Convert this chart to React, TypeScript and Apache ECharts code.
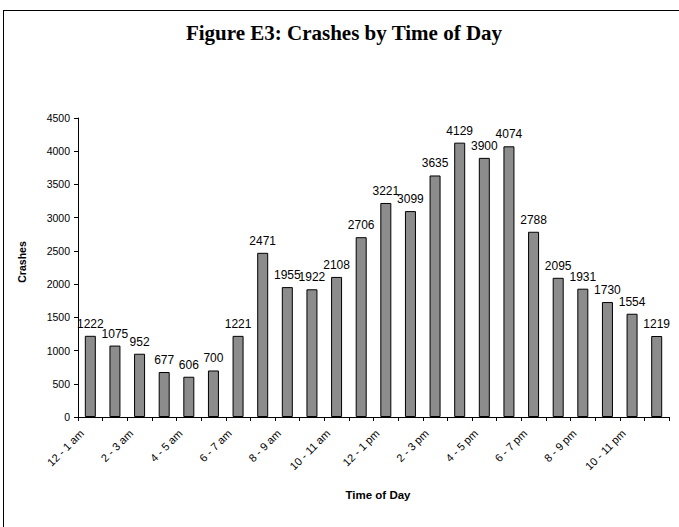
import React, { useEffect, useRef } from "react";
import * as echarts from "echarts";

const categories = [
  "12 - 1 am", "1 - 2 am", "2 - 3 am", "3 - 4 am", "4 - 5 am", "5 - 6 am",
  "6 - 7 am", "7 - 8 am", "8 - 9 am", "9 - 10 am", "10 - 11 am", "11 - 12 pm",
  "12 - 1 pm", "1 - 2 pm", "2 - 3 pm", "3 - 4 pm", "4 - 5 pm", "5 - 6 pm",
  "6 - 7 pm", "7 - 8 pm", "8 - 9 pm", "9 - 10 pm", "10 - 11 pm", "11 - 12 am",
];
const crashes = [
  1222, 1075, 952, 677, 606, 700, 1221, 2471, 1955, 1922, 2108, 2706,
  3221, 3099, 3635, 4129, 3900, 4074, 2788, 2095, 1931, 1730, 1554, 1219,
];

const titleText = "Figure E3: Crashes by Time of Day";
const yAxisName = "Crashes";
const xAxisName = "Time of Day";

export default function App() {
  const ref = useRef<HTMLDivElement>(null);
  useEffect(() => {
    if (!ref.current) return;
    const chart = echarts.init(ref.current, undefined, { renderer: "svg" });
    const sans = "Liberation Sans, Arial, sans-serif";
    chart.setOption({
      animation: false,
      backgroundColor: "#ffffff",
      graphic: [
        { type: "line", shape: { x1: 3.5, y1: 10, x2: 3.5, y2: 527 }, style: { stroke: "#000", lineWidth: 1 } },
        { type: "line", shape: { x1: 3, y1: 10.5, x2: 679, y2: 10.5 }, style: { stroke: "#000", lineWidth: 1 } },
        {
          type: "text",
          x: 344,
          y: 33,
          style: {
            text: titleText,
            fontFamily: "Liberation Serif, Times New Roman, serif",
            fontWeight: "bold",
            fontSize: 21,
            fill: "#000",
            align: "center",
            verticalAlign: "middle",
          },
        },
        {
          type: "text",
          x: 22,
          y: 262,
          rotation: Math.PI / 2,
          style: {
            text: yAxisName,
            fontFamily: sans,
            fontWeight: "bold",
            fontSize: 10.5,
            fill: "#000",
            align: "center",
            verticalAlign: "middle",
          },
        },
        {
          type: "text",
          x: 378,
          y: 495,
          style: {
            text: xAxisName,
            fontFamily: sans,
            fontWeight: "bold",
            fontSize: 11.5,
            fill: "#000",
            align: "center",
            verticalAlign: "middle",
          },
        },
      ],
      grid: { left: 78, right: 10, top: 118, bottom: 110, containLabel: false },
      xAxis: {
        type: "category",
        data: categories,
        boundaryGap: true,
        axisLine: { lineStyle: { color: "#000", width: 1 } },
        axisTick: { show: true, interval: 0, length: 4, lineStyle: { color: "#000" } },
        axisLabel: {
          interval: 1,
          rotate: 45,
          fontFamily: sans,
          fontSize: 11,
          color: "#000",
          margin: 6,
          padding: [0, 12, 0, 0],
        },
        splitLine: { show: false },
      },
      yAxis: {
        type: "value",
        min: 0,
        max: 4500,
        interval: 500,
        axisLine: { show: true, lineStyle: { color: "#000", width: 1 } },
        axisTick: { show: true, length: 4, lineStyle: { color: "#000" } },
        axisLabel: {
          fontFamily: sans,
          fontSize: 10.5,
          color: "#000",
          margin: 8,
          formatter: (v: number) => String(v),
        },
        splitLine: { show: false },
      },
      series: [
        {
          type: "bar",
          data: crashes,
          barWidth: 11,
          itemStyle: { color: "#8c8c8c", borderColor: "#000", borderWidth: 1 },
          label: {
            show: true,
            position: "top",
            distance: 6,
            fontFamily: sans,
            fontSize: 12,
            color: "#000",
          },
        },
      ],
    });
    return () => chart.dispose();
  }, []);
  return (
    <div
      ref={ref}
      style={{ position: "absolute", left: 0, top: 0, width: 679, height: 527 }}
    />
  );
}
